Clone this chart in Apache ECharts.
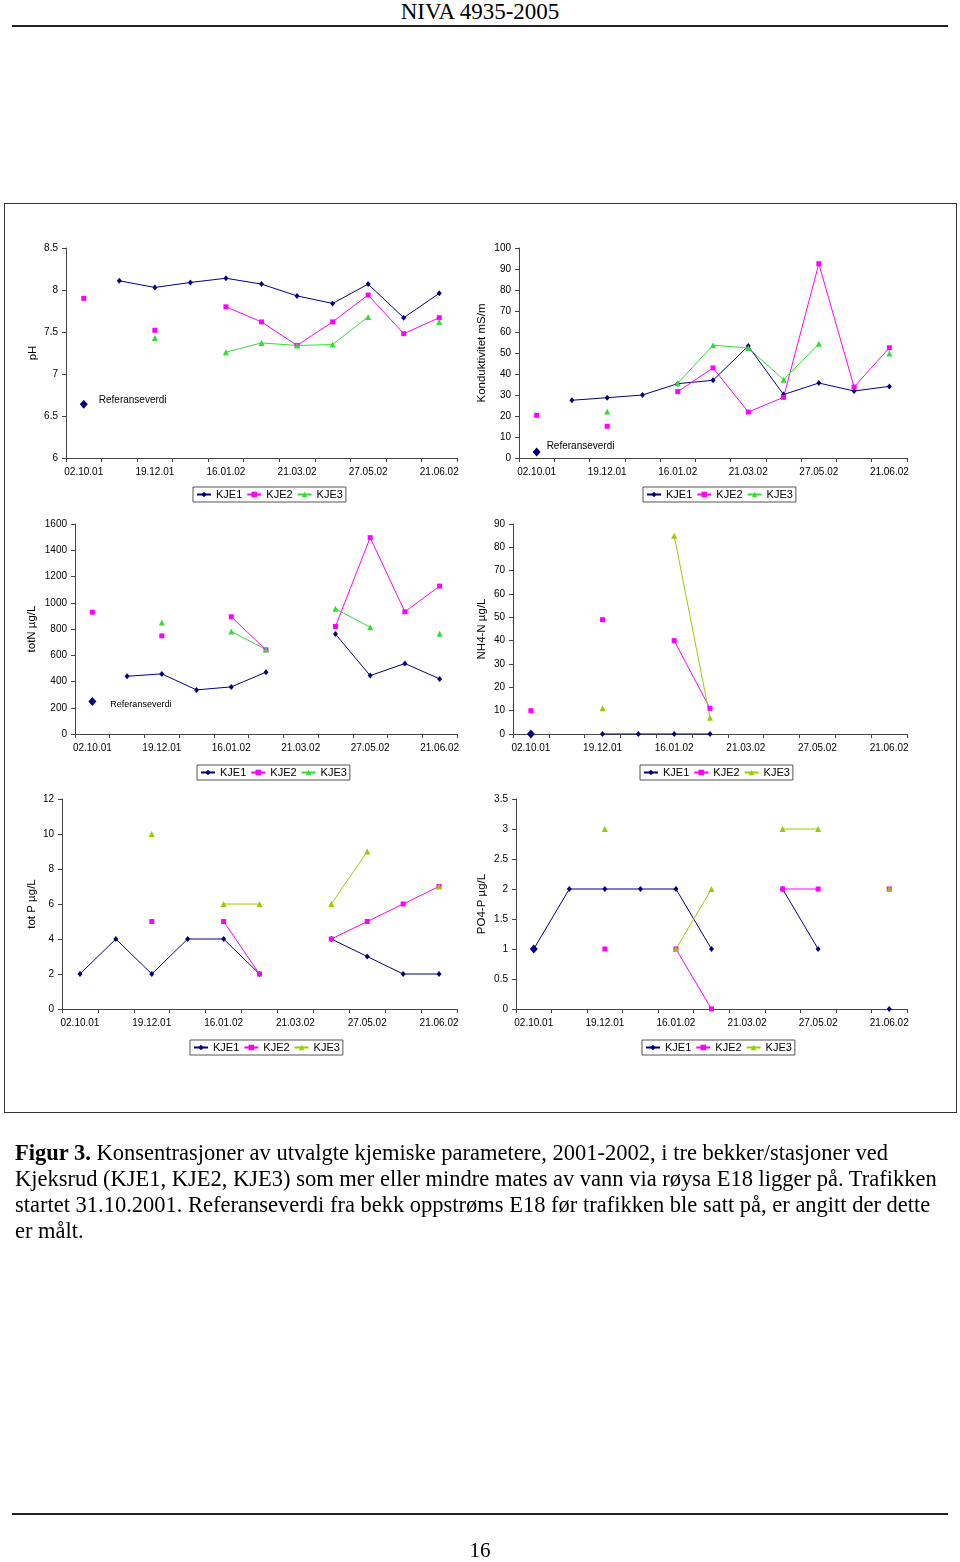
<!DOCTYPE html>
<html><head><meta charset="utf-8">
<script src="https://cdn.jsdelivr.net/npm/echarts@6/dist/echarts.min.js"></script>
<style>
html,body{margin:0;padding:0;background:#fff;}
body{width:960px;height:1562px;position:relative;overflow:hidden;font-family:"Liberation Serif","Times New Roman",serif;color:#000;}
.chart{position:absolute;left:0;top:0;width:960px;height:1562px;}
#hdr{position:absolute;top:0;left:0;width:960px;text-align:center;font-size:23px;line-height:24px;}
.rule{position:absolute;left:12px;width:936px;height:2px;background:#222;}
#box{position:absolute;left:4px;top:203px;width:953px;height:910px;border:1px solid #333;box-sizing:border-box;}
#cap{position:absolute;left:15px;top:1140px;font-size:22.5px;line-height:26px;white-space:nowrap;}
#pg{position:absolute;left:0;top:1538px;width:960px;text-align:center;font-size:21px;line-height:24px;}
</style></head>
<body>
<div id="hdr">NIVA 4935-2005</div>
<div class="rule" style="top:25px"></div>
<div id="box"></div>
<div class="chart" id="c1"></div>
<div class="chart" id="c2"></div>
<div class="chart" id="c3"></div>
<div class="chart" id="c4"></div>
<div class="chart" id="c5"></div>
<div class="chart" id="c6"></div>
<div id="cap"><b>Figur 3.</b> Konsentrasjoner av utvalgte kjemiske parametere, 2001-2002, i tre bekker/stasjoner ved<br>Kjeksrud (KJE1, KJE2, KJE3) som mer eller mindre mates av vann via røysa E18 ligger på. Trafikken<br>startet 31.10.2001. Referanseverdi fra bekk oppstrøms E18 før trafikken ble satt på, er angitt der dette<br>er målt.</div>
<div class="rule" style="top:1513px"></div>
<div id="pg">16</div>
<script>
// Category axis (11 sampling dates; only every other one is labelled)
const categories = ['02.10.01','','19.12.01','','16.01.02','','21.03.02','','27.05.02','','21.06.02'];
const seriesNames = ['KJE1','KJE2','KJE3'];
const refLabel = 'Referanseverdi';

// pH
const phKJE1 = [null, 8.11, 8.03, 8.09, 8.14, 8.07, 7.93, 7.84, 8.07, 7.67, 7.96];
const phKJE2 = [7.90, null, 7.52, null, 7.80, 7.62, 7.34, 7.62, 7.94, 7.48, 7.67];
const phKJE3 = [null, null, 7.43, null, 7.26, 7.37, 7.34, 7.35, 7.68, null, 7.62];
const phRef = 6.64;

// Konduktivitet mS/m
const kondKJE1 = [null, 27.5, 28.7, 30.0, 35.4, 37.0, 53.3, 30.2, 35.7, 31.9, 34.1];
const kondKJE2 = [20.3, null, 15.1, null, 31.6, 42.9, 21.9, 28.9, 92.5, 33.8, 52.5];
const kondKJE3 = [null, null, 22.1, null, 35.6, 53.7, 52.4, 37.3, 54.4, null, 49.8];
const kondRef = 2.9;

// totN µg/L
const totNKJE1 = [null, 440, 458, 336, 359, 471, null, 761, 445, 537, 420];
const totNKJE2 = [928, null, 748, null, 893, 641, null, 819, 1496, 931, 1127];
const totNKJE3 = [null, null, 850, null, 781, 643, null, 954, 814, null, 763];
const totNRef = 247;

// NH4-N µg/L
const nh4KJE1 = [null, null, 0, 0, 0, 0, null, null, null, null, null];
const nh4KJE2 = [10, null, 49, null, 40, 11, null, null, null, null, null];
const nh4KJE3 = [null, null, 11, null, 85, 7, null, null, null, null, null];
const nh4Ref = 0;

// tot P µg/L
const totPKJE1 = [2, 4, 2, 4, 4, 2, null, 4, 3, 2, 2];
const totPKJE2 = [null, null, 5, null, 5, 2, null, 4, 5, 6, 7];
const totPKJE3 = [null, null, 10, null, 6, 6, null, 6, 9, null, 7];

// PO4-P µg/L
const po4KJE1 = [1, 2, 2, 2, 2, 1, null, 2, 1, null, 0];
const po4KJE2 = [null, null, 1, null, 1, 0, null, 2, 2, null, 2];
const po4KJE3 = [null, null, 3, null, 1, 2, null, 3, 3, null, 2];
const po4Ref = 1;

const NAVY = '#000080', MAG = '#ff00ff', GREEN = '#33dd33', OLIVE = '#99cc00';
const SANS = '"Liberation Sans", Arial, sans-serif';

function lineSeries(name, data, color, symbol, size){
  return {
    name: name, type: 'line', data: data, connectNulls: false,
    symbol: symbol, symbolSize: size, showSymbol: true, showAllSymbol: true,
    lineStyle: {color: color, width: 1}, itemStyle: {color: color, opacity: 1},
    silent: true, animation: false
  };
}

function build(id, p){
  const series = [
    lineSeries('KJE1', p.d[0], NAVY, 'diamond', [5,6]),
    lineSeries('KJE2', p.d[1], MAG, 'rect', 5),
    lineSeries('KJE3', p.d[2], p.c3, 'triangle', 6)
  ];
  if (p.ref !== undefined) {
    series.unshift({
      name: 'ref', type: 'scatter', data: [[0, p.ref]], symbol: 'diamond', symbolSize: [8,9],
      itemStyle: {color: NAVY, opacity: 1}, silent: true, z: 1,
      label: {show: !!p.refLab, formatter: refLabel, position: 'right', distance: p.refDist || 10,
        offset: p.refOff || [0,0], color: '#000', fontFamily: SANS, fontSize: p.refFont || 10}
    });
  }
  const opt = {
    animation: false,
    grid: {left: p.l, top: p.t, width: p.r - p.l, height: p.b - p.t},
    legend: {
      left: p.lx, top: p.ly, data: seriesNames, orient: 'horizontal',
      borderColor: '#555', borderWidth: 1, padding: [2, 3], itemGap: 4,
      itemWidth: 14, itemHeight: 7, backgroundColor: '#fff',
      textStyle: {fontFamily: SANS, fontSize: 11, color: '#000'}
    },
    xAxis: {
      type: 'category', data: categories, boundaryGap: true,
      axisLine: {show: true, lineStyle: {color: '#444', width: 1}},
      axisTick: {show: true, interval: 0, length: 4, lineStyle: {color: '#444'}},
      axisLabel: {interval: 1, color: '#000', fontFamily: SANS, fontSize: p.xf || 10, margin: 9},
      splitLine: {show: false}
    },
    yAxis: {
      type: 'value', min: p.min, max: p.max, interval: p.iv,
      name: p.name, nameLocation: 'middle', nameGap: p.ng, nameRotate: 90,
      nameTextStyle: {fontFamily: SANS, fontSize: 11.5, color: '#000'},
      axisLine: {show: true, lineStyle: {color: '#444', width: 1}},
      axisTick: {show: true, length: 4, lineStyle: {color: '#444'}},
      axisLabel: {color: '#000', fontFamily: SANS, fontSize: 10, margin: 8,
        formatter: function(v){ return String(v); }},
      splitLine: {show: false}
    },
    series: series
  };
  const ch = echarts.init(document.getElementById(id), null, {renderer: 'canvas'});
  ch.setOption(opt);
}

build('c1', {l: 66, r: 457, t: 248, b: 458, lx: 193, ly: 487, min: 6, max: 8.5, iv: 0.5,
  name: 'pH', ng: 27, d: [phKJE1, phKJE2, phKJE3], c3: GREEN, ref: phRef, refLab: true, refDist: 11, refOff: [0, -4]});
build('c2', {l: 519, r: 907, t: 248, b: 458, lx: 643, ly: 487, min: 0, max: 100, iv: 10,
  name: 'Konduktivitet mS/m', ng: 31, d: [kondKJE1, kondKJE2, kondKJE3], c3: GREEN, ref: kondRef, refLab: true, refDist: 6, refOff: [0, -6]});
build('c3', {l: 75, r: 457, t: 524, b: 734, lx: 197, ly: 765, min: 0, max: 1600, iv: 200,
  name: 'totN µg/L', ng: 37, d: [totNKJE1, totNKJE2, totNKJE3], c3: GREEN, ref: totNRef, refLab: true, refDist: 14, refOff: [0, 3], refFont: 9});
build('c4', {l: 513, r: 907, t: 524, b: 734, lx: 640, ly: 765, min: 0, max: 90, iv: 10,
  name: 'NH4-N µg/L', ng: 25, d: [nh4KJE1, nh4KJE2, nh4KJE3], c3: OLIVE, ref: nh4Ref, refLab: false});
build('c5', {l: 62, r: 457, t: 799, b: 1009, lx: 190, ly: 1040, min: 0, max: 12, iv: 2,
  name: 'tot P µg/L', ng: 24, d: [totPKJE1, totPKJE2, totPKJE3], c3: OLIVE});
build('c6', {l: 516, r: 907, t: 799, b: 1009, lx: 642, ly: 1040, min: 0, max: 3.5, iv: 0.5,
  name: 'PO4-P µg/L', ng: 28, d: [po4KJE1, po4KJE2, po4KJE3], c3: OLIVE, ref: po4Ref, refLab: false});
</script>
</body></html>
